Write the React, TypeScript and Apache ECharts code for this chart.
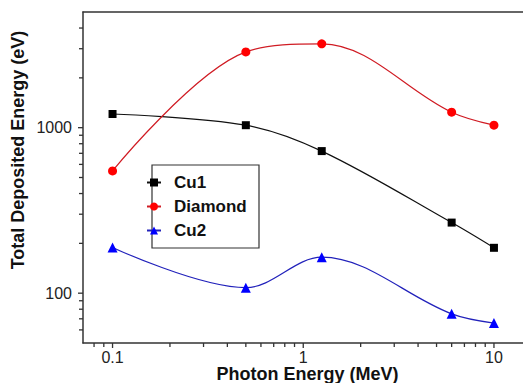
import React, { useEffect, useRef } from 'react';
import * as echarts from 'echarts';

const energies = [0.1, 0.5, 1.25, 6, 10];
const cu1 = [1210, 1035, 722, 267, 188];
const diamond = [548, 2870, 3210, 1240, 1035];
const cu2 = [189, 108, 165, 75, 66];
const seriesNames = ['Cu1', 'Diamond', 'Cu2'];
const xTickLabels = ['0.1', '1', '10'];
const yTickLabels = ['100', '1000'];
const xMajorTicks = [0.1, 1, 10];
const xMinorTicks = [0.08, 0.09, 0.2, 0.3, 0.4, 0.5, 0.6, 0.7, 0.8, 0.9, 2, 3, 4, 5, 6, 7, 8, 9];
const yMajorTicks = [100, 1000];
const yMinorTicks = [60, 70, 80, 90, 200, 300, 400, 500, 600, 700, 800, 900, 2000, 3000, 4000];

const X_MIN = 0.07;
const X_MAX = 14.2;
const Y_MIN = 50;
const Y_MAX = 5000;

const FONT = '"Liberation Sans", Arial, sans-serif';
const AXIS_COLOR = '#333';

function matchLabel(labels: string[], v: number) {
  const lv = Math.log10(v);
  for (const l of labels) {
    if (Math.abs(Math.log10(Number(l)) - lv) < 1e-6) return l;
  }
  return '';
}

function tickSeries(values: number[], dir: 'x' | 'y', len: number) {
  return {
    type: 'custom',
    coordinateSystem: 'cartesian2d',
    clip: false,
    silent: true,
    z: 5,
    data: values.map((v) => (dir === 'x' ? [v, Y_MIN] : [X_MIN, v])),
    renderItem: (_params: any, api: any) => {
      const p = api.coord([api.value(0), api.value(1)]);
      const shape =
        dir === 'x'
          ? { x1: p[0], y1: p[1], x2: p[0], y2: p[1] + len }
          : { x1: p[0], y1: p[1], x2: p[0] - len, y2: p[1] };
      return { type: 'line', shape, style: { stroke: AXIS_COLOR, lineWidth: 1.3 } };
    },
  };
}

export default function App() {
  const ref = useRef<HTMLDivElement>(null);
  useEffect(() => {
    if (!ref.current) return;
    const chart = echarts.init(ref.current, undefined, { renderer: 'svg' });
    const mk = (vals: number[]) => energies.map((e, i) => [e, vals[i]]);
    chart.setOption({
      animation: false,
      backgroundColor: '#fff',
      grid: { left: 83, right: 0, top: 12, bottom: 40, outerBoundsMode: 'none', containLabel: false },
      xAxis: [
        {
          type: 'log',
          logBase: 10,
          min: X_MIN,
          max: X_MAX,
          name: 'Photon Energy (MeV)',
          nameLocation: 'middle',
          nameGap: 22,
          nameMoveOverlap: false,
          nameTextStyle: {
            fontFamily: FONT,
            fontSize: 18,
            fontWeight: 'bold',
            color: '#111',
            padding: [0, 0, 0, 9],
          },
          axisLine: { show: true, lineStyle: { color: AXIS_COLOR, width: 1.5 } },
          axisTick: { show: false },
          splitLine: { show: false },
          minorTick: { show: false },
          axisLabel: {
            fontFamily: FONT,
            fontSize: 16,
            color: '#222',
            margin: 6,
            formatter: (v: number) => matchLabel(xTickLabels, v),
          },
        },
        {
          type: 'log',
          logBase: 10,
          min: X_MIN,
          max: X_MAX,
          position: 'top',
          axisLine: { show: true, lineStyle: { color: AXIS_COLOR, width: 1.5 } },
          axisTick: { show: false },
          axisLabel: { show: false },
          splitLine: { show: false },
        },
      ],
      yAxis: {
        type: 'log',
        logBase: 10,
        min: Y_MIN,
        max: Y_MAX,
        name: 'Total Deposited Energy (eV)',
        nameLocation: 'middle',
        nameGap: 56,
        nameMoveOverlap: false,
        nameTextStyle: {
          fontFamily: FONT,
          fontSize: 18,
          fontWeight: 'bold',
          color: '#111',
          padding: [0, 0, 0, 55],
        },
        axisLine: { show: true, lineStyle: { color: AXIS_COLOR, width: 1.5 } },
        axisTick: { show: false },
        splitLine: { show: false },
        axisLabel: {
          fontFamily: FONT,
          fontSize: 16,
          color: '#222',
          margin: 11,
          formatter: (v: number) => matchLabel(yTickLabels, v),
        },
      },
      legend: {
        data: seriesNames,
        orient: 'vertical',
        left: 146,
        top: 174,
        padding: 0,
        itemWidth: 14,
        itemHeight: 10,
        itemGap: 7,
        textStyle: {
          fontFamily: FONT,
          fontSize: 17,
          fontWeight: 'bold',
          color: '#111',
          padding: [0, 0, 0, 8],
        },
      },
      graphic: [
        {
          type: 'rect',
          z: 1,
          shape: { x: 152, y: 165, width: 107, height: 83 },
          style: { fill: '#fff', stroke: AXIS_COLOR, lineWidth: 1.2 },
        },
      ],
      series: [
        {
          name: seriesNames[0],
          type: 'line',
          data: mk(cu1),
          smooth: 0.35,
          symbol: 'rect',
          symbolSize: 8,
          itemStyle: { color: '#000' },
          lineStyle: { color: '#111', width: 1.2 },
        },
        {
          name: seriesNames[1],
          type: 'line',
          data: mk(diamond),
          smooth: 0.35,
          symbol: 'circle',
          symbolSize: 9,
          itemStyle: { color: '#ff0000' },
          lineStyle: { color: '#d01c24', width: 1.2 },
        },
        {
          name: seriesNames[2],
          type: 'line',
          data: mk(cu2),
          smooth: 0.35,
          symbol: 'triangle',
          symbolSize: 10,
          itemStyle: { color: '#0000ff' },
          lineStyle: { color: '#2222bb', width: 1.2 },
        },
        tickSeries(xMajorTicks, 'x', 5),
        tickSeries(xMinorTicks, 'x', 4),
        tickSeries(yMajorTicks, 'y', 5),
        tickSeries(yMinorTicks, 'y', 4),
      ],
    });
    return () => chart.dispose();
  }, []);
  return (
    <div
      ref={ref}
      style={{ position: 'fixed', left: 0, top: 0, width: 523, height: 383 }}
    />
  );
}
